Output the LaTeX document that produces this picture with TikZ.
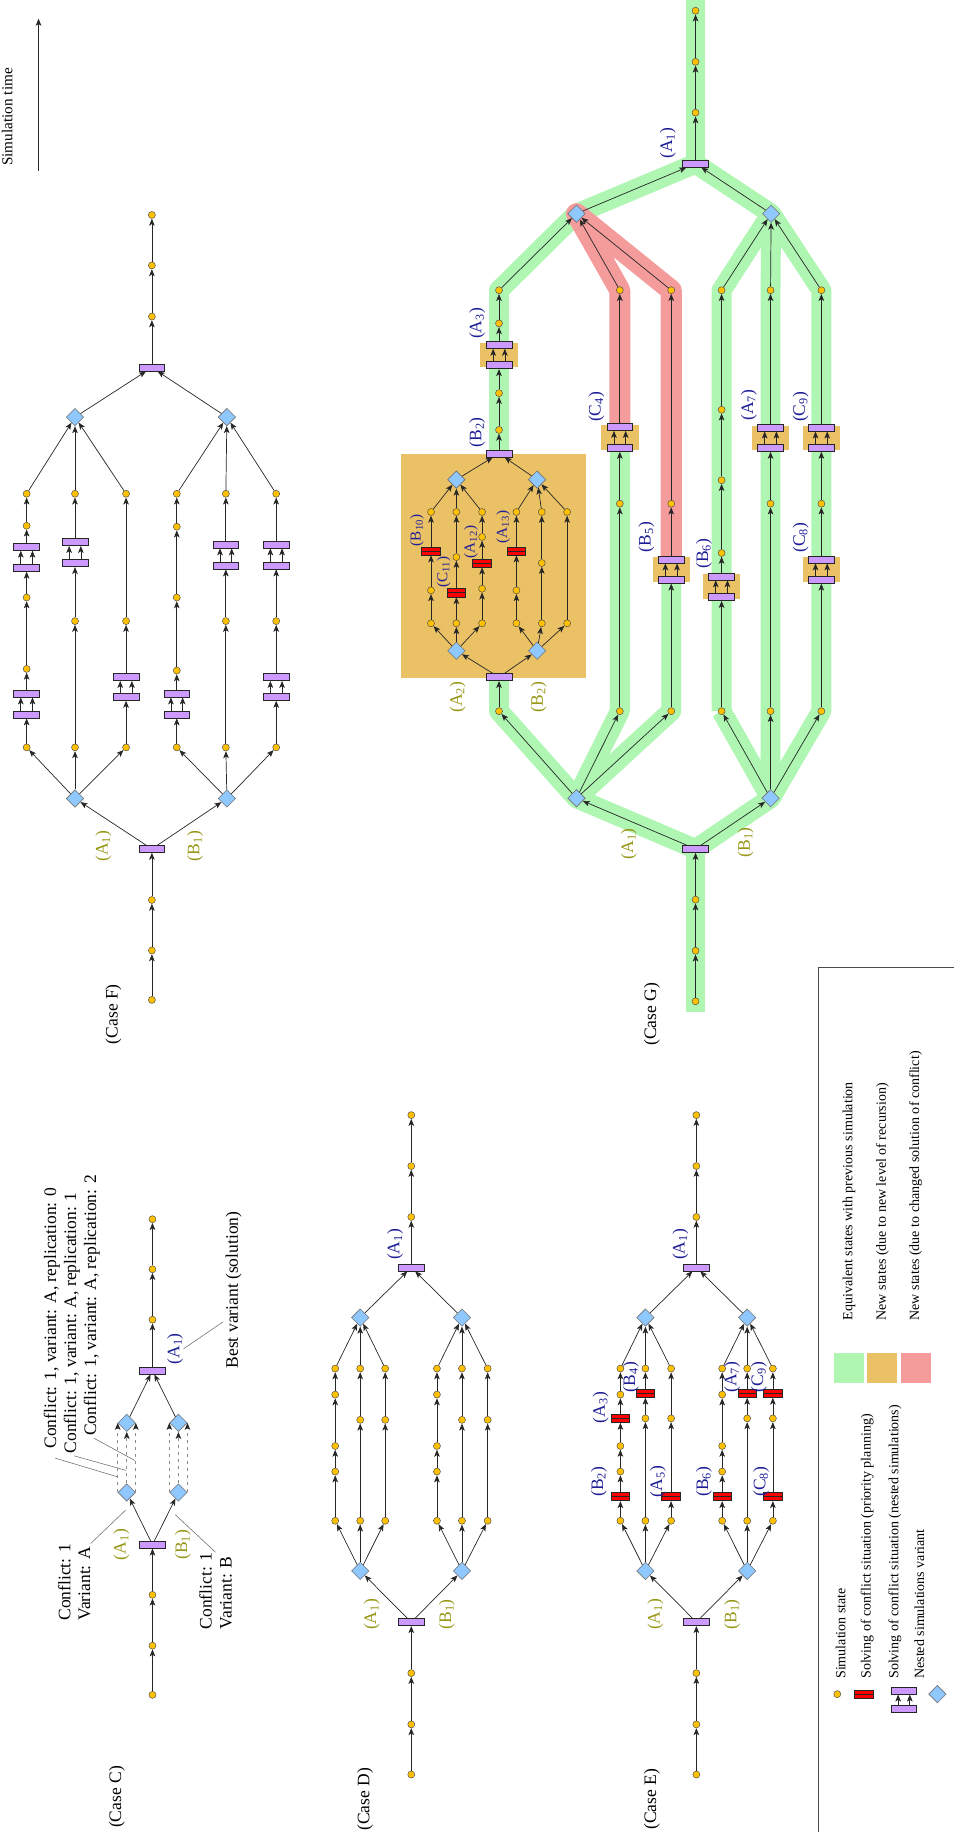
\documentclass[tikz,border=0pt]{standalone}
\usepackage{fontspec}
\setmainfont{Liberation Serif}
\usepackage{xcolor}
\usetikzlibrary{arrows.meta,shapes.geometric,calc,backgrounds}

\definecolor{statefill}{RGB}{255,192,0}
\definecolor{variantfill}{RGB}{142,200,255}
\definecolor{nestedfill}{RGB}{204,153,255}
\definecolor{priofill}{RGB}{250,0,0}
\definecolor{equivgreen}{RGB}{174,246,178}
\definecolor{recorange}{RGB}{235,193,102}
\definecolor{changedred}{RGB}{244,155,155}
\definecolor{variantolive}{RGB}{150,150,20}
\definecolor{conflictblue}{RGB}{30,30,150}

% conflict solved by nested simulations: two bars, two arrows
\newcommand{\nestpair}[4]{%
  \node[nest] (#1t) at (#2,#3) {};
  \node[nest] (#1b) at (#2,#4) {};
  \draw[arr] ([xshift=-5pt]#1b.north) -- ([xshift=-5pt]#1t.south);
  \draw[arr] ([xshift=5pt]#1b.north) -- ([xshift=5pt]#1t.south);}
% arrows along a list of nodes
\newcommand{\arrowchain}[1]{%
  \gdef\prevnode{}%
  \foreach \n in {#1}{%
    \ifx\prevnode\empty\else\draw[arr] (\prevnode) -- (\n);\fi
    \xdef\prevnode{\n}}}
\newcommand{\fanout}[2]{\foreach \n in {#2}{\draw[arr] (#1) -- (\n);}}
\newcommand{\fanin}[2]{\foreach \n in {#1}{\draw[arr] (\n) -- (#2);}}

\begin{document}
\begin{tikzpicture}[x=1pt,y=-1pt,
    state/.style={circle,draw=black!70,fill=statefill,line width=0.4pt,inner sep=0pt,minimum size=6pt},
    variant/.style={diamond,draw=black!55,fill=variantfill,line width=0.5pt,inner sep=0pt,minimum size=15pt},
    nest/.style={rectangle,draw=black!85,fill=nestedfill,line width=0.6pt,inner sep=0pt,minimum width=22pt,minimum height=6pt},
    prio/.style={rectangle,draw=black!85,fill=priofill,line width=0.5pt,inner sep=0pt,minimum width=16pt,minimum height=7pt,
      path picture={\draw[black!85,line width=0.5pt] (path picture bounding box.west) -- (path picture bounding box.east);}},
    arr/.style={-{Stealth[length=6pt,width=4.8pt,inset=1.5pt]},draw=black!85,line width=0.6pt},
    dasharr/.style={-{Stealth[length=6pt,width=4.8pt,inset=1.5pt,color=black!85]},dashed,draw=black!45,line width=0.6pt},
    lead/.style={draw=black!55,line width=0.5pt},
    txt/.style={rotate=90,inner sep=0pt,font=\fontsize{15}{17}\selectfont},
    vlab/.style={txt,text=variantolive},
    clab/.style={txt,text=conflictblue},
    nlab/.style={clab,font=\fontsize{13}{15}\selectfont},
    keytxt/.style={rotate=90,inner sep=0pt,anchor=west,font=\fontsize{12}{14}\selectfont},
    swatch/.style={rectangle,inner sep=0pt,minimum size=25.6pt},
    band/.style={line width=17pt,line join=round,draw=equivgreen},
    redband/.style={band,draw=changedred,line width=18pt}
  ]
  \useasboundingbox (0,0) rectangle (816,1568);

  % simulation time
  \node[txt,font=\fontsize{13}{15}\selectfont,anchor=base west] (simtime) at (10.5,142) {Simulation time};
  \coordinate (time0) at (33,146);
  \coordinate (time1) at (33,16);
  \draw[arr] (time0) -- (time1);

  % ---- Case C
  \node[txt] (caseC) at (100,1538) {(Case C)};
  \foreach \n/\y in {s1/1450.6,s2/1408.5,s3/1365,e1/1129.5,e2/1086.3,e3/1043.5}
    \node[state] (C\n) at (130.5,\y) {};
  \node[nest] (Cr0) at (130.5,1322.1) {};
  \node[nest] (Cr1) at (130.5,1173.1) {};
  \node[variant] (Cv1) at (108.5,1277.4) {};
  \node[variant] (Cv2) at (152.7,1277.4) {};
  \node[variant] (Cw1) at (108.5,1217.8) {};
  \node[variant] (Cw2) at (152.7,1217.8) {};
  \arrowchain{Cs1,Cs2,Cs3,Cr0}
  \arrowchain{Cr1,Ce1,Ce2,Ce3}
  \fanout{Cr0}{Cv1,Cv2}
  \fanin{Cw1,Cw2}{Cr1}
  \foreach \v in {1,2}{
    \draw[dasharr] (Cv\v.west) -- (Cw\v.west);
    \draw[dasharr] (Cv\v.north) -- (Cw\v.south);
    \draw[dasharr] (Cv\v.east) -- (Cw\v.east);}
  \node[vlab] (ClA1) at (104,1322) {(A\textsubscript{1})};
  \node[vlab] (ClB1) at (156.5,1322) {(B\textsubscript{1})};
  \node[clab] (CsolA1) at (150,1154.5) {(A\textsubscript{1})};
  \node[txt,anchor=west,align=left] (CconfA) at (63.5,1387.3) {Conflict: 1\\Variant: A};
  \node[txt,anchor=west,align=left] (CconfB) at (184.5,1394.8) {Conflict: 1\\Variant: B};
  \node[txt,anchor=west] (Crep0) at (44.3,1240) {Conflict: 1, variant: A, replication: 0};
  \node[txt,anchor=west] (Crep1) at (61.4,1244) {Conflict: 1, variant: A, replication: 1};
  \node[txt,anchor=west] (Crep2) at (78.5,1229) {Conflict: 1, variant: A, replication: 2};
  \node[txt,anchor=west] (Cbest) at (200,1171.3) {Best variant (solution)};
  \coordinate (Cpa) at (107.5,1292.5);
  \coordinate (Cpb) at (150,1296.4);
  \coordinate (Cq0) at (100.5,1264);
  \coordinate (Cq1) at (108,1258.5);
  \coordinate (Cq2) at (115.5,1250);
  \draw[lead] (CconfA.south east) -- (Cpa);
  \draw[lead] (CconfB.east) -- (Cpb);
  \draw[lead] ($(Crep0.west)+(3,8)$) -- (Cq0);
  \draw[lead] ($(Crep1.west)+(2,2)$) -- (Cq1);
  \draw[lead] ($(Crep2.west)+(2,2)$) -- (Cq2);
  \draw[lead] ($(Cbest.north west)+(-2,-40)$) -- (CsolA1.south);

  % ---- Case D
  \node[txt] (caseD) at (312.6,1540) {(Case D)};
  \foreach \n/\y in {s1/1518.8,s2/1475.9,s3/1432,e1/1041.6,e2/998,e3/954.4}
    \node[state] (D\n) at (352,\y) {};
  \node[nest] (Dr0) at (352,1388.4) {};
  \node[nest] (Dr1) at (352,1084.8) {};
  \node[variant] (Dv1) at (308.3,1344.5) {};
  \node[variant] (Dv2) at (395.4,1344.5) {};
  \node[variant] (Dw1) at (308.3,1127.7) {};
  \node[variant] (Dw2) at (395.4,1127.7) {};
  \foreach \c/\x in {1/286.9,2/308.3,3/329.7,4/374,5/395.4,6/417.4}{
    \node[state] (D\c a) at (\x,1301.6) {};
    \node[state] (D\c z) at (\x,1171.3) {};}
  \foreach \c/\x in {1/286.9,4/374}{
    \node[state] (D\c b) at (\x,1259.5) {};
    \node[state] (D\c c) at (\x,1237.6) {};
    \node[state] (D\c d) at (\x,1193.6) {};}
  \foreach \c/\x in {2/308.3,3/329.7,5/395.4,6/417.4}
    \node[state] (D\c b) at (\x,1215.2) {};
  \arrowchain{Ds1,Ds2,Ds3,Dr0}
  \fanout{Dr0}{Dv1,Dv2}
  \fanout{Dv1}{D1a,D2a,D3a}
  \fanout{Dv2}{D4a,D5a,D6a}
  \foreach \c in {1,4}{\arrowchain{D\c a,D\c b,D\c c,D\c d,D\c z}}
  \foreach \c in {2,3,5,6}{\arrowchain{D\c a,D\c b,D\c z}}
  \fanin{D1z,D2z,D3z}{Dw1}
  \fanin{D4z,D5z,D6z}{Dw2}
  \fanin{Dw1,Dw2}{Dr1}
  \arrowchain{Dr1,De1,De2,De3}
  \node[clab] (DlA1) at (338.3,1065) {(A\textsubscript{1})};
  \node[vlab] (DlA1v) at (318.3,1381.7) {(A\textsubscript{1})};
  \node[vlab] (DlB1v) at (382.5,1381.7) {(B\textsubscript{1})};

  % ---- Case E
  \node[txt] (caseE) at (558,1540) {(Case E)};
  \foreach \n/\y in {s1/1518.8,s2/1475.9,s3/1432,e1/1041.6,e2/998,e3/954.4}
    \node[state] (E\n) at (596,\y) {};
  \node[nest] (Er0) at (596,1388.4) {};
  \node[nest] (Er1) at (596,1084.8) {};
  \node[variant] (Ev1) at (552.4,1344.5) {};
  \node[variant] (Ev2) at (639.5,1344.5) {};
  \node[variant] (Ew1) at (552.4,1127.7) {};
  \node[variant] (Ew2) at (639.5,1127.7) {};
  \foreach \c/\x in {1/531,2/552.4,3/574.4,4/618.1,5/639.5,6/661.5}{
    \node[state] (E\c a) at (\x,1301.6) {};
    \node[state] (E\c z) at (\x,1171.3) {};}
  % column 1: B2, A3
  \node[prio] (E1p) at (531,1281) {};
  \node[state] (E1b) at (531,1259.5) {};
  \node[state] (E1c) at (531,1237.6) {};
  \node[prio] (E1q) at (531,1214) {};
  \node[state] (E1d) at (531,1193.6) {};
  % column 2: B4
  \node[state] (E2b) at (552.4,1214) {};
  \node[prio] (E2p) at (552.4,1192.5) {};
  % column 3: A5
  \node[prio] (E3p) at (574.4,1281) {};
  \node[state] (E3b) at (574.4,1214) {};
  % column 4: B6
  \node[prio] (E4p) at (618.1,1281) {};
  \node[state] (E4b) at (618.1,1259.5) {};
  \node[state] (E4c) at (618.1,1237.6) {};
  \node[state] (E4d) at (618.1,1193.6) {};
  % column 5: A7
  \node[state] (E5b) at (639.5,1214) {};
  \node[prio] (E5p) at (639.5,1192.5) {};
  % column 6: C8, C9
  \node[prio] (E6p) at (661.5,1281) {};
  \node[state] (E6b) at (661.5,1214) {};
  \node[prio] (E6q) at (661.5,1192.5) {};
  \arrowchain{Es1,Es2,Es3,Er0}
  \fanout{Er0}{Ev1,Ev2}
  \fanout{Ev1}{E1a,E2a,E3a}
  \fanout{Ev2}{E4a,E5a,E6a}
  \arrowchain{E1a,E1p,E1b,E1c,E1q,E1d,E1z}
  \arrowchain{E2a,E2b,E2p,E2z}
  \arrowchain{E3a,E3p,E3b,E3z}
  \arrowchain{E4a,E4p,E4b,E4c,E4d,E4z}
  \arrowchain{E5a,E5b,E5p,E5z}
  \arrowchain{E6a,E6p,E6b,E6q,E6z}
  \fanin{E1z,E2z,E3z}{Ew1}
  \fanin{E4z,E5z,E6z}{Ew2}
  \fanin{Ew1,Ew2}{Er1}
  \arrowchain{Er1,Ee1,Ee2,Ee3}
  \node[clab] (ElA1) at (582.4,1065) {(A\textsubscript{1})};
  \node[clab] (ElB2) at (512.5,1268) {(B\textsubscript{2})};
  \node[clab] (ElA3) at (514,1204.8) {(A\textsubscript{3})};
  \node[clab] (ElB4) at (540,1178.7) {(B\textsubscript{4})};
  \node[clab] (ElA5) at (563,1268) {(A\textsubscript{5})};
  \node[clab] (ElB6) at (602.4,1268) {(B\textsubscript{6})};
  \node[clab] (ElA7) at (626.7,1178.7) {(A\textsubscript{7})};
  \node[clab] (ElC9) at (649.5,1178.7) {(C\textsubscript{9})};
  \node[clab] (ElC8) at (651.5,1268) {(C\textsubscript{8})};
  \node[vlab] (ElA1v) at (561,1381.7) {(A\textsubscript{1})};
  \node[vlab] (ElB1v) at (626.7,1381.7) {(B\textsubscript{1})};

  % ---- Case F
  \node[txt] (caseF) at (97,868) {(Case F)};
  \foreach \n/\y in {s1/855.8,s2/813.5,s3/770.3,e1/270.9,e2/227.2,e3/184}
    \node[state] (F\n) at (130,\y) {};
  \node[nest] (Fr0) at (130,726.6) {};
  \node[nest] (Fr1) at (130,314.6) {};
  \node[variant] (Fv1) at (64.2,683.4) {};
  \node[variant] (Fv2) at (194.2,683.4) {};
  \node[variant] (Fw1) at (64.2,357) {};
  \node[variant] (Fw2) at (194.2,357) {};
  \foreach \c/\x in {1/22.8,2/64.2,3/107.9,4/151.3,5/193.3,6/236.4}{
    \node[state] (F\c a) at (\x,639.7) {};
    \node[state] (F\c z) at (\x,422.6) {};}
  % column 1
  \nestpair{F1p}{22.8}{593.6}{611.5}
  \node[state] (F1b) at (22.8,572.5) {};
  \node[state] (F1c) at (22.8,511.4) {};
  \nestpair{F1q}{22.8}{468}{486}
  \node[state] (F1d) at (22.8,450) {};
  % column 2
  \node[state] (F2b) at (64.2,531.6) {};
  \nestpair{F2p}{64.2}{464}{482}
  % column 3
  \nestpair{F3p}{107.9}{579.5}{596.5}
  \node[state] (F3b) at (107.9,531.6) {};
  % column 4
  \nestpair{F4p}{151.3}{593.6}{611.5}
  \node[state] (F4b) at (151.3,573.9) {};
  \node[state] (F4c) at (151.3,511.4) {};
  \node[state] (F4d) at (151.3,450.8) {};
  % column 5
  \node[state] (F5b) at (193.3,531.6) {};
  \nestpair{F5p}{193.3}{466}{484}
  % column 6
  \nestpair{F6p}{236.4}{579.5}{596.5}
  \node[state] (F6b) at (236.4,531.6) {};
  \nestpair{F6q}{236.4}{466}{484}
  \arrowchain{Fs1,Fs2,Fs3,Fr0}
  \fanout{Fr0}{Fv1,Fv2}
  \fanout{Fv1}{F1a,F2a,F3a}
  \fanout{Fv2}{F4a,F5a,F6a}
  \arrowchain{F1a,F1pb} \arrowchain{F1pt,F1b,F1c,F1qb} \arrowchain{F1qt,F1d,F1z}
  \arrowchain{F2a,F2b,F2pb} \arrowchain{F2pt,F2z}
  \arrowchain{F3a,F3pb} \arrowchain{F3pt,F3b,F3z}
  \arrowchain{F4a,F4pb} \arrowchain{F4pt,F4b,F4c,F4d,F4z}
  \arrowchain{F5a,F5b,F5pb} \arrowchain{F5pt,F5z}
  \arrowchain{F6a,F6pb} \arrowchain{F6pt,F6b,F6qb} \arrowchain{F6qt,F6z}
  \fanin{F1z,F2z,F3z}{Fw1}
  \fanin{F4z,F5z,F6z}{Fw2}
  \fanin{Fw1,Fw2}{Fr1}
  \arrowchain{Fr1,Fe1,Fe2,Fe3}
  \node[vlab] (FlA1v) at (88.5,724.2) {(A\textsubscript{1})};
  \node[vlab] (FlB1v) at (167,724.2) {(B\textsubscript{1})};

  % ---- Case G
  \node[txt] (caseG) at (558,868) {(Case G)};
  \foreach \n/\y in {s1/857,s2/813.7,s3/770,e1/96.4,e2/52.9,e3/9.2}
    \node[state] (G\n) at (595.3,\y) {};
  \node[nest] (Gr0) at (595.3,726.6) {};
  \node[nest] (Gr1) at (595.3,140.1) {};
  \node[variant] (Gv1) at (493.4,683.2) {};
  \node[variant] (Gv2) at (659.5,683.2) {};
  \node[variant] (Gw1) at (493.4,182.9) {};
  \node[variant] (Gw2) at (660,182.9) {};
  \foreach \c/\x in {1/427.1,2/530.5,3/574.5,4/617.6,5/659.5,6/703}{
    \node[state] (G\c a) at (\x,608.7) {};
    \node[state] (G\c z) at (\x,248.4) {};}
  % column 1: new recursion level, then A3
  \node[nest] (Nr0) at (427.1,579.6) {};
  \node[nest] (Nr1) at (427.1,388.2) {};
  \node[state] (G1b) at (427.1,368) {};
  \node[state] (G1c) at (427.1,336.5) {};
  \nestpair{GA3}{427.1}{295.2}{312.6}
  \node[state] (G1d) at (427.1,276.8) {};
  % column 2: C4
  \node[state] (G2b) at (530.5,431.1) {};
  \nestpair{GC4}{530.5}{365.5}{383.4}
  % column 3: B5
  \nestpair{GB5}{574.5}{478.9}{496.2}
  \node[state] (G3b) at (574.5,431.1) {};
  % column 4: B6
  \nestpair{GB6}{617.6}{493.3}{511}
  \node[state] (G4b) at (617.6,473.3) {};
  \node[state] (G4c) at (617.6,411) {};
  \node[state] (G4d) at (617.6,350.7) {};
  % column 5: A7
  \node[state] (G5b) at (659.5,431.1) {};
  \nestpair{GA7}{659.5}{366}{383.4}
  % column 6: C8, C9
  \nestpair{GC8}{703}{478.9}{496.2}
  \node[state] (G6b) at (703,431.1) {};
  \nestpair{GC9}{703}{366}{383.4}
  % nested simulations of column 1
  \node[variant] (Nv1) at (390.6,557) {};
  \node[variant] (Nv2) at (459.7,557) {};
  \node[variant] (Nw1) at (390.6,410.5) {};
  \node[variant] (Nw2) at (459.7,410.5) {};
  \foreach \c/\x in {1/368.9,2/390.6,3/412.6,4/442,5/463.7,6/485.4}{
    \node[state] (N\c a) at (\x,533.5) {};
    \node[state] (N\c z) at (\x,438.2) {};}
  \node[state] (N1b) at (368.9,505.3) {};
  \node[prio] (N1p) at (368.9,471.6) {};
  \node[prio] (N2p) at (390.6,507.3) {};
  \node[state] (N2b) at (390.6,476.8) {};
  \node[state] (N3b) at (412.6,503.9) {};
  \node[prio] (N3p) at (412.6,481.9) {};
  \node[state] (N3c) at (412.6,459.6) {};
  \node[state] (N4b) at (442,505.3) {};
  \node[prio] (N4p) at (442,471.6) {};
  \node[state] (N5b) at (463.7,481.9) {};
  \arrowchain{Gs1,Gs2,Gs3,Gr0}
  \fanout{Gr0}{Gv1,Gv2}
  \fanout{Gv1}{G1a,G2a,G3a}
  \fanout{Gv2}{G4a,G5a,G6a}
  \arrowchain{G1a,Nr0}
  \fanout{Nr0}{Nv1,Nv2}
  \fanout{Nv1}{N1a,N2a,N3a}
  \fanout{Nv2}{N4a,N5a,N6a}
  \arrowchain{N1a,N1b,N1p,N1z}
  \arrowchain{N2a,N2p,N2b,N2z}
  \arrowchain{N3a,N3b,N3p,N3c,N3z}
  \arrowchain{N4a,N4b,N4p,N4z}
  \arrowchain{N5a,N5b,N5z}
  \arrowchain{N6a,N6z}
  \fanin{N1z,N2z,N3z}{Nw1}
  \fanin{N4z,N5z,N6z}{Nw2}
  \fanin{Nw1,Nw2}{Nr1}
  \arrowchain{Nr1,G1b,G1c,GA3b} \arrowchain{GA3t,G1d,G1z}
  \arrowchain{G2a,G2b,GC4b} \arrowchain{GC4t,G2z}
  \arrowchain{G3a,GB5b} \arrowchain{GB5t,G3b,G3z}
  \arrowchain{G4a,GB6b} \arrowchain{GB6t,G4b,G4c,G4d,G4z}
  \arrowchain{G5a,G5b,GA7b} \arrowchain{GA7t,G5z}
  \arrowchain{G6a,GC8b} \arrowchain{GC8t,G6b,GC9b} \arrowchain{GC9t,G6z}
  \fanin{G1z,G2z,G3z}{Gw1}
  \fanin{G4z,G5z,G6z}{Gw2}
  \fanin{Gw1,Gw2}{Gr1}
  \arrowchain{Gr1,Ge1,Ge2,Ge3}
  \node[clab] (GlA1) at (571.6,122.4) {(A\textsubscript{1})};
  \node[clab] (GlB2) at (408.3,370) {(B\textsubscript{2})};
  \node[clab] (GlA3) at (408.3,276.8) {(A\textsubscript{3})};
  \node[clab] (GlC4) at (510.4,348.3) {(C\textsubscript{4})};
  \node[clab] (GlB5) at (553.3,459.6) {(B\textsubscript{5})};
  \node[clab] (GlB6) at (602.4,473.9) {(B\textsubscript{6})};
  \node[clab] (GlA7) at (640.9,346.9) {(A\textsubscript{7})};
  \node[clab] (GlC9) at (685.2,348.3) {(C\textsubscript{9})};
  \node[clab] (GlC8) at (685.2,460.2) {(C\textsubscript{8})};
  \node[nlab] (NlB10) at (356.9,453.9) {(B\textsubscript{10})};
  \node[nlab] (NlC11) at (379.7,489.6) {(C\textsubscript{11})};
  \node[nlab] (NlA12) at (403.2,463.9) {(A\textsubscript{12})};
  \node[nlab] (NlA13) at (430.6,451.1) {(A\textsubscript{13})};
  \node[vlab] (GlA2v) at (391.7,596.7) {(A\textsubscript{2})};
  \node[vlab] (GlB2v) at (461.1,596.7) {(B\textsubscript{2})};
  \node[vlab] (GlA1v) at (538.2,722.3) {(A\textsubscript{1})};
  \node[vlab] (GlB1v) at (638.1,720.9) {(B\textsubscript{1})};

  % ---- legend
  \draw[black!70,line width=0.6pt] (700,1600) -- (700,828) -- (840,828);
  \node[state] (kst) at (716.6,1450) {};
  \node[keytxt] (kstt) at (719.5,1437) {Simulation state};
  \node[prio] (kpr) at (739.4,1450) {};
  \node[keytxt] (kprt) at (742.3,1437) {Solving of conflict situation (priority planning)};
  \nestpair{kns}{773.7}{1447}{1463}
  \node[keytxt] (knst) at (766,1437) {Solving of conflict situation (nested simulations)};
  \node[variant] (kvar) at (802.3,1450) {};
  \node[keytxt] (kvart) at (786.8,1437) {Nested simulations variant};
  \node[swatch,fill=equivgreen] (keq) at (726.6,1171) {};
  \node[keytxt] (keqt) at (726.6,1130.3) {Equivalent states with previous simulation};
  \node[swatch,fill=recorange] (krec) at (755.2,1171) {};
  \node[keytxt] (krect) at (755.2,1130.3) {New states (due to new level of recursion)};
  \node[swatch,fill=changedred] (kchg) at (783.7,1171) {};
  \node[keytxt] (kchgt) at (783.7,1130.3) {New states (due to changed solution of conflict)};

  % ---- highlighting of case G
  \begin{scope}[on background layer]
    \coordinate (gbot) at (595.3,866);
    \coordinate (gtop) at (595.3,-5);
    \draw[band] (gbot) -- (Gr0.center);
    \draw[band] (Gv1.center) -- (Gr0.center) -- (Gv2.center);
    \draw[band] (Nr0.center) -- (G1a.center) -- (Gv1.center) -- (G2a.center) -- (GC4b.center);
    \draw[band] (Gv1.center) -- (G3a.center) -- (GB5b.center);
    \draw[band] (G4a.center) -- (Gv2.center) -- (G5a.center) -- (G5z.center) -- (Gw2.center);
    \draw[band] (Gv2.center) -- (G6a.center) -- (G6z.center) -- (Gw2.center) -- (G4z.center) -- (G4a.center);
    \draw[band] (Nr1.center) -- (G1z.center) -- (Gw1.center) -- (Gr1.center) -- (Gw2.center);
    \draw[band] (Gr1.center) -- (gtop);
    \draw[redband] (GC4t.center) -- (G2z.center) -- (Gw1.center) -- (G3z.center) -- (GB5t.center);
    \fill[recorange] (343.2,389) rectangle (501.6,580.4);
    \foreach \p in {GA3,GC4,GB5,GB6,GA7,GC9,GC8}
      \fill[recorange] ($(\p t)!0.5!(\p b)$) +(-16,-10.5) rectangle +(16,10.5);
  \end{scope}
\end{tikzpicture}
\end{document}
